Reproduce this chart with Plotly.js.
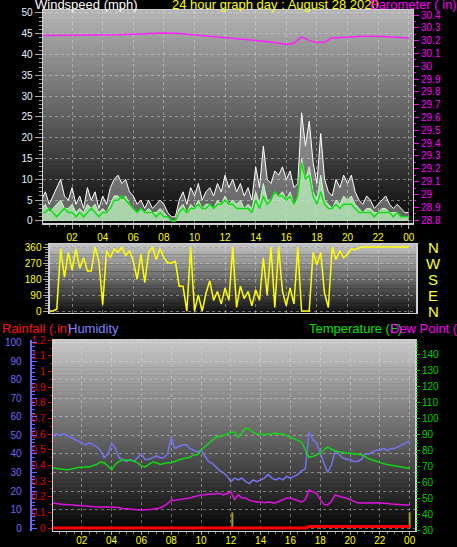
<!DOCTYPE html>
<html><head><meta charset="utf-8">
<script src="https://cdn.plot.ly/plotly-3.0.1.min.js"></script>
<style>html,body{margin:0;padding:0;background:#000;}#chart{width:457px;height:547px;}</style>
</head><body><div id="chart"></div>
<script>
// ---- data (15-minute samples, hour 0 .. 24) ----
const hours = Array.from({length: 97}, (_, i) => i * 0.25);
const xTickVals = [2, 4, 6, 8, 10, 12, 14, 16, 18, 20, 22, 24];
const xTickLabels = ["02","04","06","08","10","12","14","16","18","20","22","00"];

const windGust = [
  5,7,4,6, 8,10,6,5, 8,4,6,3, 8,5,7,3, 6,4,8,10, 11,9,10,7,
  6,4,5,3, 5,3,4,5, 4,2,1,1, 5,7,4,8, 6,9,5,7, 8,6,9,7,
  11,8,10,7, 9,6,8,5, 13,8,18,10, 9,12,11,13, 10,12,8,9, 26,18,24,14,
  9,21,10,7, 6,10,8,11, 9,11,7,5, 4,6,5,3, 4,5,6,4, 3,4,3,2, 2
];
const windSpeed = [
  3,4,2,3, 4,5,3,3, 4,2,3,2, 4,3,4,2, 3,2,4,6, 6,5,6,4,
  3,2,3,2, 3,2,2,3, 2,1,0,0, 3,4,2,4, 3,5,3,4, 4,3,5,4,
  6,4,5,4, 5,3,4,3, 7,4,9,5, 5,7,6,7, 5,7,4,5, 15,10,13,7,
  5,11,5,4, 3,5,4,6, 5,6,4,3, 2,3,3,2, 2,3,3,2, 2,2,1,1, 1
];
const windAvg = [
  2,2,3,2, 1,2,3,2, 2,1,2,1, 2,3,2,1, 2,2,3,5, 5,6,5,4,
  3,2,3,2, 2,2,1,2, 1,1,0,0, 2,3,2,3, 3,4,3,3, 4,3,4,4,
  5,4,4,3, 3,3,3,2, 5,3,6,4, 5,7,6,6, 5,6,4,6, 14,10,11,6,
  4,7,4,3, 3,4,3,4, 4,4,3,2, 2,2,2,1, 2,2,2,2, 1,2,1,1, 1
];
const baroHours = [0,1,2,3,4,5,6,7,8,9,10,11,12,13,14,15,16,16.5,17,17.5,18,18.5,19,20,21,22,23,24];
const baroValues = [30.24,30.24,30.24,30.245,30.24,30.245,30.25,30.255,30.26,30.255,30.245,30.235,30.225,30.215,30.205,30.19,30.17,30.18,30.23,30.2,30.185,30.19,30.22,30.23,30.235,30.235,30.23,30.22];

const windDir = [
  0,0,0,0, 10,350,190,330, 230,350,240,300, 225,225,360,280, 35,340,300,350, 330,360,310,340,
  280,180,320,160, 330,360,290,350, 300,270,270,280, 140,140,0,360, 0,90,0,100, 170,60,110,40,
  130,60,360,20, 140,70,110,30, 120,60,300,90, 360,20,360,110, 30,130,40,360, 0,0,0,330,
  260,330,100,20, 360,290,340,300, 320,350,345,355, 360,360,360,360, 360,360,360,360, 360,360,360,360, 360
];
const dirLabels = ["N","W","S","E","N"];
const dirLabelValues = [360, 270, 180, 90, 0];

const humidity = [
  49,51,50,51, 50,49,48,47, 46,45,46,45, 44,42,38,40, 46,43,38,37, 36,37,36,38,
  40,37,37,38, 39,38,38,40, 49,43,44,45, 45,43,42,41, 42,39,36,35, 33,31,30,28,
  25,27,26,27, 25,24,26,25, 26,27,29,27, 26,27,26,28, 27,28,29,31, 32,52,48,46,
  40,35,30,34, 42,40,38,37, 37,36,36,37, 40,40,41,42, 42,43,42,43, 43,44,45,46, 47
];
const temperature = [
  68.8,68.5,68,68, 67.6,68,68.5,69, 69,69.5,69.4,70, 71,72.5,72,70, 67.6,71,73,73.8, 74,73.8,73,72,
  70,69.4,71,72.5, 72,71,71.5,72, 72,73,74,74.5, 75,75.5,76.9,77, 80,82,84,86, 88,88.5,89,90,
  91,91.3,88,91, 93.8,93,91,90, 90,89.5,90,90, 90.5,90,90,89, 88,87,86,85, 80,75.6,76,77,
  78,80,81.9,80.5, 79.4,79,78.5,78, 78,77.5,77.5,77, 76,74.5,73.8,73, 72,71.5,71,70.6, 70,69.5,69,68.8, 68.5
];
const dewPoint = [
  46.9,46.5,46.5,46, 46,45.8,45.5,45.5, 45,45,44.8,44.5, 44.5,44.3,44.5,44.4, 44.4,44.5,44,43.5, 43.2,43,42.8,42.6,
  42.5,42.6,42.8,43, 43.5,43.8,45,46.5, 48.8,48.5,49,49.2, 49.4,50,50.8,51.5, 51.9,52,52.5,52.3, 52.5,53,52,53,
  53.8,49,52,50, 50,48.5,48,47.5, 47.5,47,47.5,47, 46.9,48,49,50, 50,49,48,47.5, 49,55,54,53,
  49,46,45.7,48, 51.9,51,50.5,50, 49,48,47,46.9, 47,47.2,46.9,47, 46.9,46.5,46.5,46.2, 46,46,45.8,45.7, 45.7
];
const rainfall = [
  0,0,0,0, 0,0,0,0, 0,0,0,0, 0,0,0,0, 0,0,0,0, 0,0,0,0,
  0,0,0,0, 0,0,0,0, 0,0,0,0, 0,0,0,0, 0,0,0,0, 0,0,0,0,
  0,0,0,0, 0,0,0,0, 0,0,0,0, 0,0,0,0, 0,0,0,0, 0,0.01,0.01,0.01,
  0.01,0.01,0.01,0.01, 0.01,0.01,0.01,0.01, 0.01,0.01,0.01,0.01, 0.01,0.01,0.01,0.01, 0.01,0.01,0.01,0.01, 0.01,0.01,0.01,0.01, 0.01
];
const rainBarHours = [12.1, 24];
const rainBarValues = [0.1, 0.1];

// ---- styling helpers ----
const shapes = [];
function gradient(xr, yr, top, bottom, n) {
  for (let i = 0; i < n; i++) {
    const t = (i + 0.5) / n; // 0 bottom -> 1 top
    const c = Math.round(bottom + (top - bottom) * t);
    shapes.push({type: 'rect', xref: xr + ' domain', yref: yr + ' domain', x0: 0, x1: 1,
      y0: i / n, y1: Math.min(1, (i + 1) / n + 0.003),
      fillcolor: `rgb(${c},${c},${c})`, line: {width: 0}, layer: 'below'});
  }
}
gradient('x', 'y', 182, 8, 48);
gradient('x2', 'y3', 196, 16, 20);
gradient('x3', 'y4', 200, 4, 48);

const gridC = 'rgba(225,225,225,0.45)';
const FONT = 'Liberation Sans, Arial, sans-serif';

const traces = [
  {x: hours, y: windGust, xaxis: 'x', yaxis: 'y', mode: 'lines', line: {color: '#ffffff', width: 1},
   fill: 'tozeroy', fillcolor: 'rgba(255,255,255,0.35)', hoverinfo: 'skip'},
  {x: hours, y: windSpeed, xaxis: 'x', yaxis: 'y', mode: 'lines', line: {color: '#c8f5c8', width: 1},
   fill: 'tozeroy', fillcolor: 'rgba(190,240,190,0.8)'},
  {x: hours, y: windAvg, xaxis: 'x', yaxis: 'y', mode: 'lines', line: {color: '#10e010', width: 1.5}},
  {x: baroHours, y: baroValues, xaxis: 'x', yaxis: 'y2', mode: 'lines', line: {color: '#ff20ff', width: 1.5}},
  {x: hours, y: windDir, xaxis: 'x2', yaxis: 'y3', mode: 'lines', line: {color: '#ffff00', width: 1.5}},
  {x: hours, y: humidity, xaxis: 'x3', yaxis: 'y5', mode: 'lines', line: {color: '#7474f0', width: 1.5}},
  {x: hours, y: temperature, xaxis: 'x3', yaxis: 'y6', mode: 'lines', line: {color: '#10d810', width: 1.5}},
  {x: hours, y: dewPoint, xaxis: 'x3', yaxis: 'y6', mode: 'lines', line: {color: '#e010e0', width: 1.5}},
  {x: rainBarHours, y: rainBarValues, xaxis: 'x3', yaxis: 'y4', type: 'bar', width: 0.13,
   marker: {color: '#a0a020', line: {width: 0}}},
  {x: hours, y: rainfall, xaxis: 'x3', yaxis: 'y4', mode: 'lines', line: {color: '#ff0000', width: 3}}
];

const xCommon = {tickvals: xTickVals, ticktext: xTickLabels, tickfont: {color: '#ffff00', size: 10},
  ticks: 'outside', ticklen: 4, tickcolor: '#aaaaaa', showgrid: true, gridcolor: gridC, griddash: 'dot',
  showline: true, mirror: true, linecolor: '#d0d0d0', linewidth: 1.5, zeroline: false,
  minor: {ticks: 'outside', dtick: 0.5, ticklen: 2, tickcolor: '#888888', showgrid: false}};

const annotations = [
  {text: 'Windspeed (mph)', x: 33/457, y: 1 - 4/547, color: '#ffffff'},
  {text: '24 hour graph day : August 28 2020', x: 170/457, y: 1 - 4/547, color: '#ffff00'},
  {text: 'Barometer ( in)', x: 368/457, y: 1 - 4/547, color: '#ff00ff'},
  {text: 'Rainfall (.in)', x: 0, y: 1 - 328/547, color: '#ff1010'},
  {text: 'Humidity', x: 66/457, y: 1 - 328/547, color: '#8080ff'},
  {text: 'Temperature (F)', x: 307/457, y: 1 - 328/547, color: '#00e000'},
  {text: 'Dew Point (', x: 388/457, y: 1 - 328/547, color: '#ff00ff'}
].map(a => ({text: a.text, x: a.x, y: a.y, xref: 'paper', yref: 'paper', xanchor: 'left', yanchor: 'middle',
  showarrow: false, font: {family: FONT, size: 13, color: a.color}}));
dirLabels.forEach((t, i) => annotations.push({text: t, x: 433/457, y: dirLabelValues[i], xref: 'paper', yref: 'y3',
  xanchor: 'center', yanchor: 'middle', showarrow: false, font: {family: FONT, size: 15, color: '#ffff30'}}));

const layout = {
  width: 457, height: 547, margin: {l: 0, r: 0, t: 0, b: 0},
  paper_bgcolor: '#000000', plot_bgcolor: 'rgba(0,0,0,0)', showlegend: false, barmode: 'overlay',
  font: {family: FONT, size: 10, color: '#ffffff'},
  xaxis: Object.assign({}, xCommon, {domain: [0.0941, 0.9037], range: [0.098, 24.28], anchor: 'y'}),
  yaxis: {domain: [0.5923, 0.9817], range: [-0.5, 50.7], tick0: 0, dtick: 5, ticks: 'outside', ticklen: 7,
    tickcolor: '#aaaaaa', tickfont: {color: '#e8f4ff', size: 10}, showgrid: true, gridcolor: gridC, griddash: 'dot',
    showline: true, mirror: true, linecolor: '#d0d0d0', linewidth: 1.5, zeroline: false,
    minor: {ticks: 'outside', dtick: 1, ticklen: 3, tickcolor: '#999999', showgrid: false}},
  yaxis2: {overlaying: 'y', side: 'right', anchor: 'x', range: [28.777, 30.439], tick0: 28.8, dtick: 0.1,
    ticks: 'outside', ticklen: 5, tickcolor: '#ff00ff', tickfont: {color: '#ff00ff', size: 10},
    showgrid: false, zeroline: false, showline: false,
    minor: {ticks: 'outside', dtick: 0.05, ticklen: 2, tickcolor: '#ff00ff', showgrid: false}},
  xaxis2: {domain: [0.1094, 0.9103], range: [0.555, 24.48], anchor: 'y3', tickvals: xTickVals,
    showticklabels: false, ticks: '', showgrid: true, gridcolor: gridC, griddash: 'dot',
    showline: true, mirror: true, linecolor: '#d0d0d0', linewidth: 1.5, zeroline: false},
  yaxis3: {domain: [0.4278, 0.5539], anchor: 'x2', range: [-11, 377], tickvals: [0, 90, 180, 270, 360],
    ticks: 'outside', ticklen: 5, tickcolor: '#aaaaaa', tickfont: {color: '#ffff00', size: 10},
    showgrid: true, gridcolor: gridC, griddash: 'dot', showline: true, mirror: true, linecolor: '#d0d0d0',
    linewidth: 1.5, zeroline: false,
    minor: {ticks: 'outside', dtick: 15, ticklen: 3, tickcolor: '#999999', showgrid: false}},
  xaxis3: Object.assign({}, xCommon, {domain: [0.116, 0.9081], range: [0.067, 24.36], anchor: 'y4',
    ticklen: 3, ticklabelstandoff: -3, tickfont: {color: '#ffff00', size: 10}}),
  yaxis4: {domain: [0.0293, 0.3784], anchor: 'x3', range: [-0.019, 1.202], tick0: 0, dtick: 0.1,
    ticks: 'outside', ticklen: 4, tickcolor: '#e00000', tickfont: {color: '#e00000', size: 10},
    showgrid: false, showline: true, mirror: true, linecolor: '#d0d0d0', linewidth: 1.5, zeroline: false,
    minor: {ticks: 'outside', dtick: 0.05, ticklen: 2, tickcolor: '#e00000', showgrid: false}},
  yaxis5: {overlaying: 'y4', anchor: 'free', position: 30.7/457, side: 'left', range: [-1.6, 101.6],
    tick0: 0, dtick: 10, ticks: 'inside', ticklen: 5, tickcolor: '#6a6aff', ticklabelstandoff: 6,
    tickfont: {color: '#6a6aff', size: 10}, showline: true, linecolor: '#6a6aff', linewidth: 2,
    showgrid: true, gridcolor: gridC, griddash: 'dot', zeroline: false,
    minor: {ticks: 'inside', dtick: 2, ticklen: 3, tickcolor: '#6a6aff', showgrid: false}},
  yaxis6: {overlaying: 'y4', anchor: 'x3', side: 'right', range: [29.4, 148.75], tick0: 40, dtick: 10,
    ticks: 'outside', ticklen: 4, tickcolor: '#00d000', tickfont: {color: '#00d000', size: 10},
    showgrid: false, zeroline: false, showline: false,
    minor: {ticks: 'outside', dtick: 2, ticklen: 2, tickcolor: '#00d000', showgrid: false}},
  shapes: shapes,
  annotations: annotations
};

Plotly.newPlot('chart', traces, layout, {displayModeBar: false, staticPlot: true});
</script>
</body></html>
